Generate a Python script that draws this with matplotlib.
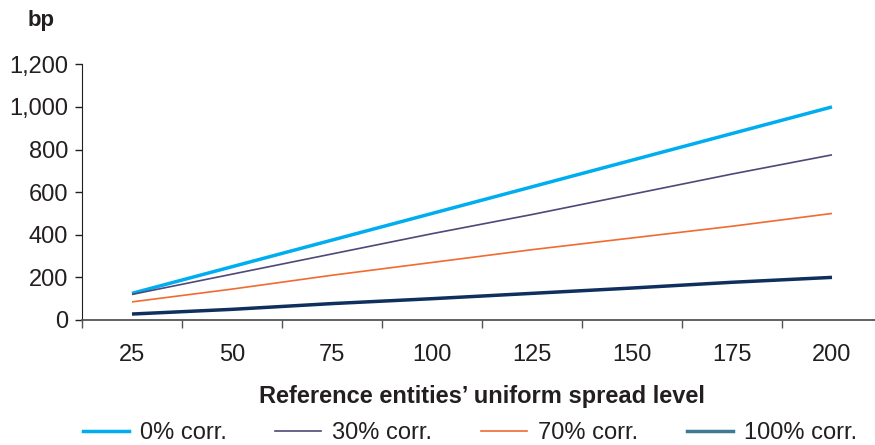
import matplotlib
matplotlib.use("Agg")
import matplotlib.pyplot as plt
from matplotlib.lines import Line2D
from matplotlib.ticker import FuncFormatter

plt.rcParams['font.family'] = ['Liberation Sans', 'DejaVu Sans']

### Daten: Spread des Portfolios je nach Korrelation ###
spread_levels = ["25", "50", "75", "100", "125", "150", "175", "200"]
corr_0 = [125, 250, 375, 500, 625, 750, 875, 1000]
corr_30 = [120, 215, 310, 405, 495, 590, 685, 775]
corr_70 = [85, 145, 210, 270, 330, 385, 440, 500]
corr_100 = [28, 50, 77, 100, 125, 150, 177, 200]
series_labels = ["0% corr.", "30% corr.", "70% corr.", "100% corr."]

col_0 = "#00aeef"
col_30 = "#4f4878"
col_70 = "#f26a2e"
col_100 = "#0f2f5f"
col_100_legend = "#3d7b94"
txt = "#231f20"
fs = 17

fig = plt.figure(figsize=(8.75, 4.45), dpi=100)
ax = fig.add_axes([0.0937, 0.2809, 0.9143, 0.5746])

x = list(range(len(spread_levels)))
ax.plot(x, corr_0, color=col_0, lw=2.5, solid_capstyle="butt")
ax.plot(x, corr_30, color=col_30, lw=1.2, solid_capstyle="butt")
ax.plot(x, corr_70, color=col_70, lw=1.2, solid_capstyle="butt")
ax.plot(x, corr_100, color=col_100, lw=2.5, solid_capstyle="butt")

ax.set_xlim(-0.5, len(spread_levels) - 0.5)
ax.set_ylim(0, 1200)
ax.set_yticks(range(0, 1201, 200))
ax.yaxis.set_major_formatter(FuncFormatter(lambda v, p: f"{int(v):,}"))

# Striche zwischen den Kategorien, Beschriftung in der Mitte
ax.set_xticks([i - 0.5 for i in range(len(spread_levels))])
ax.set_xticklabels([])
ax.set_xticks(x, minor=True)
ax.set_xticklabels(spread_levels, minor=True)
ax.tick_params(axis="x", which="major", direction="out", length=6, width=1, color="#555555")
ax.tick_params(axis="x", which="minor", length=0, pad=17, labelsize=fs, labelcolor=txt)
ax.tick_params(axis="y", direction="out", length=5, width=1, color=txt,
               labelsize=fs, labelcolor=txt, pad=5)

for s in ["top", "right"]:
    ax.spines[s].set_visible(False)
ax.spines["left"].set_color(txt)
ax.spines["bottom"].set_color("#555555")
ax.spines["bottom"].set_linewidth(1.3)

ax.set_xlabel("Reference entities\u2019 uniform spread level", fontsize=fs,
              fontweight="bold", color=txt, labelpad=14)
fig.text(0.032, 0.953, "bp", fontsize=16, fontweight="bold", color=txt,
         ha="left", va="center")

handles = [
    Line2D([], [], color=col_0, lw=2.5),
    Line2D([], [], color=col_30, lw=1.2),
    Line2D([], [], color=col_70, lw=1.2),
    Line2D([], [], color=col_100_legend, lw=2.5),
]
fig.legend(handles, series_labels, loc="center", bbox_to_anchor=(0.537, 0.027),
           ncol=4, frameon=False, fontsize=fs, handlelength=1.95,
           columnspacing=2.05, handletextpad=0.47, labelcolor=txt)

fig.savefig("out.png", dpi=100)
